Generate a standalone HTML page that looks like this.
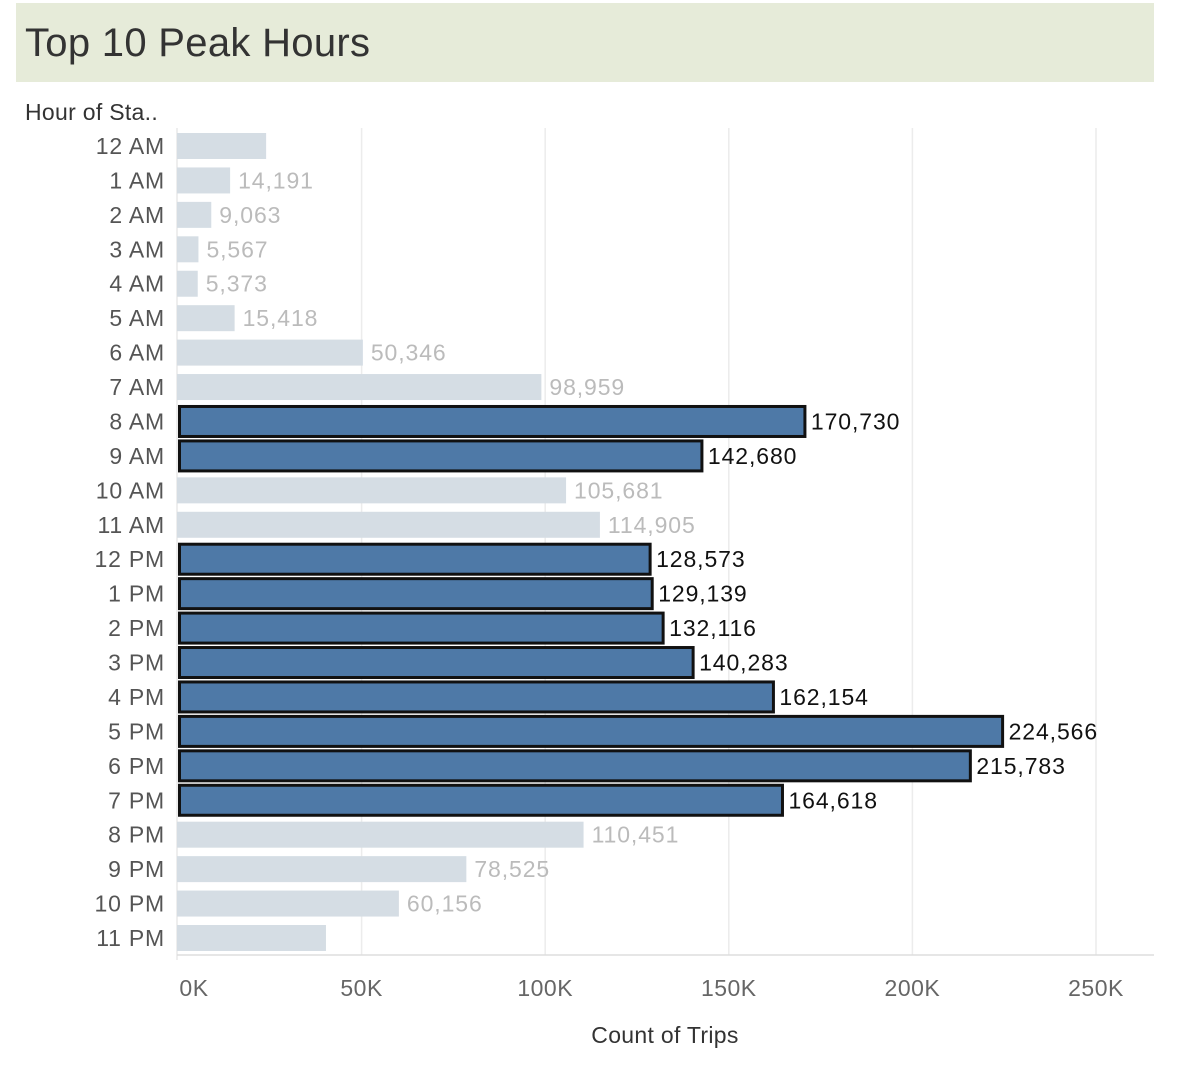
<!DOCTYPE html>
<html><head><meta charset="utf-8"><style>
body{margin:0;background:#fff;width:1180px;height:1073px;overflow:hidden;font-family:"Liberation Sans",sans-serif}
</style></head><body>
<svg width="1180" height="1073" id="svg" font-family="Liberation Sans, sans-serif">
<rect x="16" y="3" width="1138" height="79" fill="#e6ebd9"/>
<text x="25" y="56" font-size="40" fill="#333" letter-spacing="0.3">Top 10 Peak Hours</text>
<text x="25" y="120" font-size="23" fill="#333" letter-spacing="0.3">Hour of Sta..</text>
<text x="665" y="1043" font-size="23" fill="#333" letter-spacing="0.3" text-anchor="middle">Count of Trips</text>
<g id="grid"></g><g id="bars"></g>
</svg>
<script>
const hours=["12 AM","1 AM","2 AM","3 AM","4 AM","5 AM","6 AM","7 AM","8 AM","9 AM","10 AM","11 AM","12 PM","1 PM","2 PM","3 PM","4 PM","5 PM","6 PM","7 PM","8 PM","9 PM","10 PM","11 PM"];
const trips=[24000,14191,9063,5567,5373,15418,50346,98959,170730,142680,105681,114905,128573,129139,132116,140283,162154,224566,215783,164618,110451,78525,60156,40300];
const showLabel=[false,true,true,true,true,true,true,true,true,true,true,true,true,true,true,true,true,true,true,true,true,true,true,false];
const top10=[false,false,false,false,false,false,false,false,true,true,false,false,true,true,true,true,true,true,true,true,false,false,false,false];
const ticks=[0,50000,100000,150000,200000,250000];
const tickLabels=["0K","50K","100K","150K","200K","250K"];
const NS="http://www.w3.org/2000/svg";
const x=v=>178+v*(918/250000);
const y=i=>146+i*(792/23);
const svg=document.getElementById('svg'),G=document.getElementById('grid'),B=document.getElementById('bars');
function mk(tag,at,par){const e=document.createElementNS(NS,tag);for(const k in at)e.setAttribute(k,at[k]);par.appendChild(e);return e;}
ticks.forEach((t,i)=>{
 if(i>0){const l=mk('line',{x1:x(t),x2:x(t),y1:128,y2:955,stroke:'#ececec','stroke-width':1.5},G);
 
 }
 const tx=mk('text',{x:x(t)+(i==0?16:0),y:996,'font-size':23,'letter-spacing':0.5,fill:'#666','text-anchor':'middle'},G);tx.textContent=tickLabels[i];
 
 
});
const ax=mk('line',{x1:177,x2:1154,y1:955,y2:955,stroke:'#ddd','stroke-width':1.5},G);


const ay=mk('line',{x1:177,x2:177,y1:128,y2:960,stroke:'#ddd','stroke-width':1},G);


hours.forEach((h,i)=>{
 const cy=y(i);
 const lb=mk('text',{x:165,y:cy+8,'font-size':23,'letter-spacing':0.8,fill:'#555','text-anchor':'end'},B);lb.textContent=h;
 
 
 let r;
 if(top10[i]) r=mk('rect',{x:179.5,y:cy-15,width:x(trips[i])-179.5,height:30,fill:'#4e79a7',stroke:'#111','stroke-width':3},B);
 else r=mk('rect',{x:177,y:cy-13,width:x(trips[i])-177,height:26,fill:'#d5dde4'},B);
 
 
 if(showLabel[i]){const t=mk('text',{x:x(trips[i])+(top10[i]?6:8),y:cy+8,'font-size':23,'letter-spacing':0.9,fill:top10[i]?'#111':'#bbb'},B);
 t.textContent=trips[i].toLocaleString('en-US');
 
 }
});
</script>
</body></html>
